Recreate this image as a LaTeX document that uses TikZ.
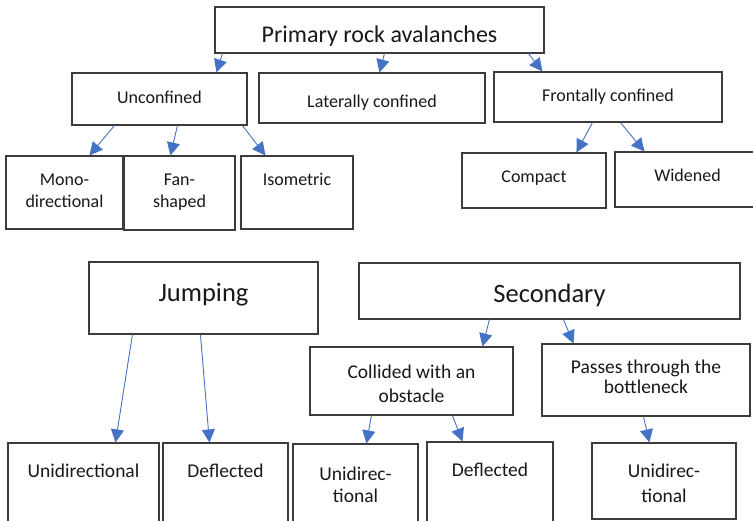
\documentclass[tikz,border=0pt]{standalone}
\usepackage{fontspec}
\setmainfont{Carlito}
\usetikzlibrary{arrows.meta}
\definecolor{boxc}{HTML}{3C3C3C}
\definecolor{arr}{HTML}{4472C4}
\tikzset{
  box/.style={draw=boxc, line width=1.1pt, inner sep=0pt, rectangle, fill=white},
  lbl/.style={anchor=base, inner sep=0pt, text=black!90},
  conn/.style={draw=arr, line width=0.9pt, -{Triangle[length=13pt,width=13pt]}},
  fA/.style={font=\fontsize{24}{28}\selectfont},
  fB/.style={font=\fontsize{18}{22}\selectfont},
  fC/.style={font=\fontsize{26.5}{30}\selectfont},
  fD/.style={font=\fontsize{19.5}{23}\selectfont},
}
\newcommand\mkbox[5]{\node[box, minimum width={#4-#2}, minimum height={#5-#3}] (#1) at ({(#2+#4)/2},{(#3+#5)/2}) {};}
\begin{document}
\begin{tikzpicture}[x=1pt,y=-1pt]
\useasboundingbox (0,0) rectangle (753,521);
% boxes
\mkbox{prim}{215}{7}{544}{53}
\mkbox{unc}{72}{73}{247}{125}
\mkbox{lat}{259}{73}{485}{123}
\mkbox{fro}{494}{72}{722}{122}
\mkbox{mono}{6}{156}{123}{229}
\mkbox{fan}{124}{156}{235}{230}
\mkbox{iso}{241}{156}{353}{229}
\mkbox{comp}{462}{153}{606}{208}
\mkbox{wid}{615}{152}{760}{207}
\mkbox{jump}{89}{262}{318}{334}
\mkbox{sec}{359}{263}{740}{319}
\mkbox{coll}{310}{347}{513}{415}
\mkbox{pass}{542}{344}{750}{416}
\mkbox{unia}{8}{443}{159}{530}
\mkbox{defa}{163}{443}{288}{530}
\mkbox{unib}{293}{444}{418}{530}
\mkbox{defb}{427}{442}{553}{530}
\mkbox{unic}{592}{443}{736}{519}
% labels
\node[lbl,fA] (tprim) at (379.5,43) {Primary rock avalanches};
\node[lbl,fB] (tunc) at (159.5,104) {Unconfined};
\node[lbl,fB] (tlat) at (372,108) {Laterally confined};
\node[lbl,fB] (tfro) at (608,102) {Frontally confined};
\node[lbl,fB] (tmonoa) at (64.5,186) {Mono-};
\node[lbl,fB] (tmonob) at (64.5,208) {directional};
\node[lbl,fB] (tfana) at (179.5,186) {Fan-};
\node[lbl,fB] (tfanb) at (179.5,208) {shaped};
\node[lbl,fB] (tiso) at (297,186) {Isometric};
\node[lbl,fB] (tcomp) at (534,183) {Compact};
\node[lbl,fB] (twid) at (687.5,182) {Widened};
\node[lbl,fC] (tjump) at (203.5,302) {Jumping};
\node[lbl,fC] (tsec) at (549.5,303) {Secondary};
\node[lbl,fD] (tcolla) at (411.5,379) {Collided with an};
\node[lbl,fD] (tcollb) at (411.5,403) {obstacle};
\node[lbl,fD] (tpassa) at (646,374) {Passes through the};
\node[lbl,fD] (tpassb) at (646,394) {bottleneck};
\node[lbl,fD] (tunia) at (83.5,477) {Unidirectional};
\node[lbl,fD] (tdefa) at (225.5,477) {Deflected};
\node[lbl,fD] (tuniba) at (355.5,480) {Unidirec-};
\node[lbl,fD] (tunibb) at (355.5,502) {tional};
\node[lbl,fD] (tdefb) at (490,476) {Deflected};
\node[lbl,fD] (tunica) at (664,478) {Unidirec-};
\node[lbl,fD] (tunicb) at (664,502) {tional};
% connectors
\draw[conn] ([xshift=8pt]prim.south west) -- ([xshift=145pt]unc.north west);
\draw[conn] ([xshift=170pt]prim.south west) -- ([xshift=121pt]lat.north west);
\draw[conn] ([xshift=314pt]prim.south west) -- ([xshift=49pt]fro.north west);
\draw[conn] ([xshift=43pt]unc.south west) -- ([xshift=84pt]mono.north west);
\draw[conn] ([xshift=106pt]unc.south west) -- ([xshift=47pt]fan.north west);
\draw[conn] ([xshift=171pt]unc.south west) -- ([xshift=25pt]iso.north west);
\draw[conn] ([xshift=99pt]fro.south west) -- ([xshift=115pt]comp.north west);
\draw[conn] ([xshift=127pt]fro.south west) -- ([xshift=30pt]wid.north west);
\draw[conn] ([xshift=44pt]jump.south west) -- ([xshift=108pt]unia.north west);
\draw[conn] ([xshift=112pt]jump.south west) -- ([xshift=47pt]defa.north west);
\draw[conn] ([xshift=131pt]sec.south west) -- ([xshift=173pt]coll.north west);
\draw[conn] ([xshift=205pt]sec.south west) -- ([xshift=32pt]pass.north west);
\draw[conn] ([xshift=62pt]coll.south west) -- ([xshift=74pt]unib.north west);
\draw[conn] ([xshift=143pt]coll.south west) -- ([xshift=36pt]defb.north west);
\draw[conn] ([xshift=102pt]pass.south west) -- ([xshift=58pt]unic.north west);
\end{tikzpicture}
\end{document}
